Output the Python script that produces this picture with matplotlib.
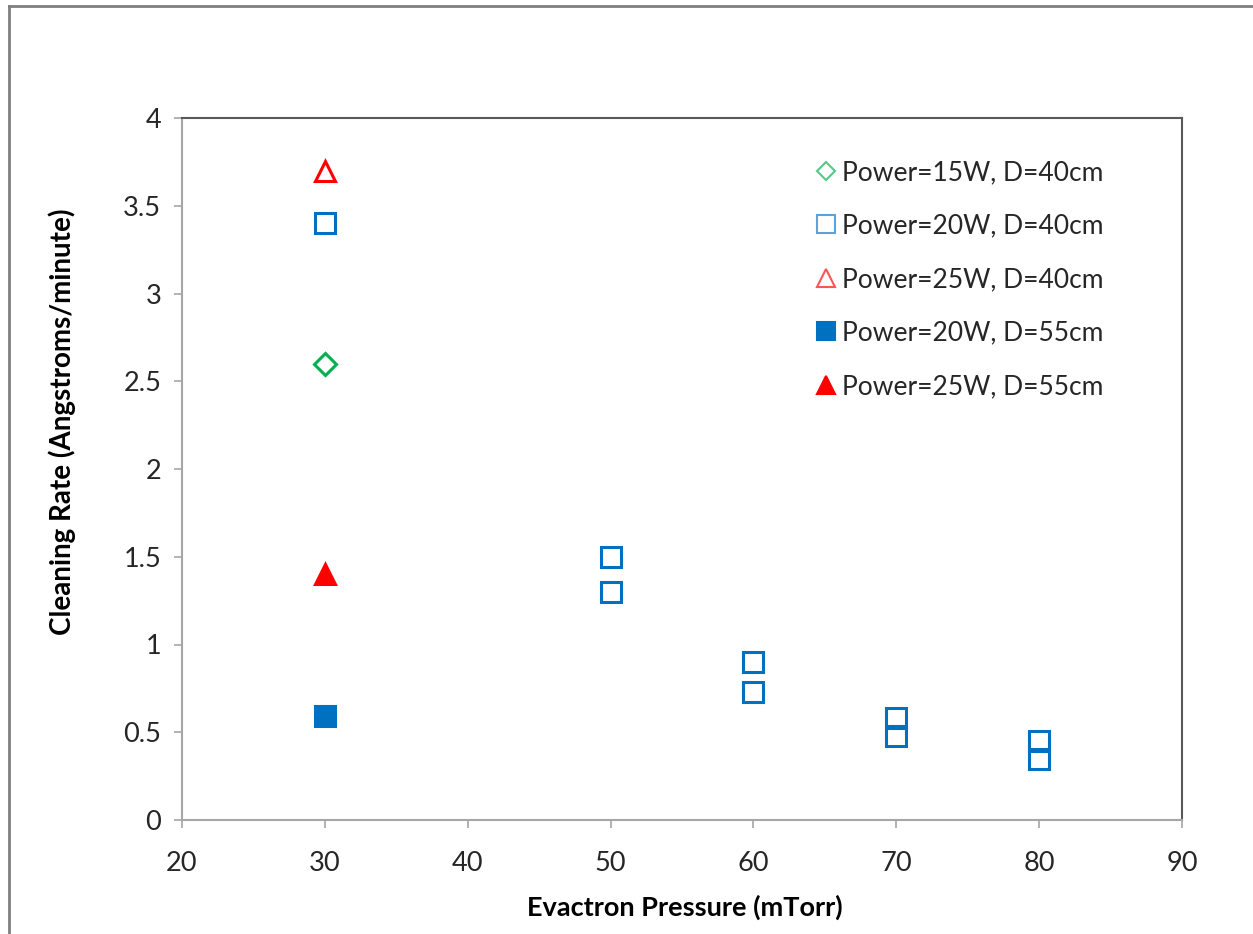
import matplotlib
matplotlib.use("Agg")
import matplotlib.pyplot as plt
from matplotlib.lines import Line2D

plt.rcParams['font.family'] = ['Lato', 'DejaVu Sans']

# Data
p15_d40_x = [30]
p15_d40_y = [2.6]
p20_d40_x = [30, 50, 50, 60, 60, 70, 70, 80, 80]
p20_d40_y = [3.4, 1.5, 1.3, 0.9, 0.73, 0.58, 0.48, 0.45, 0.35]
p25_d40_x = [30]
p25_d40_y = [3.7]
p20_d55_x = [30]
p20_d55_y = [0.59]
p25_d55_x = [30]
p25_d55_y = [1.4]

labels = ["Power=15W, D=40cm", "Power=20W, D=40cm", "Power=25W, D=40cm",
          "Power=20W, D=55cm", "Power=25W, D=55cm"]
xticks = [20, 30, 40, 50, 60, 70, 80, 90]
yticks = [0, 0.5, 1, 1.5, 2, 2.5, 3, 3.5, 4]
ytick_labels = ["0", "0.5", "1", "1.5", "2", "2.5", "3", "3.5", "4"]

blue = "#0070C0"
red = "#FF0000"
green = "#00B050"

fig = plt.figure(figsize=(12.53, 9.34), dpi=100)
ax = fig.add_axes([182/1253, 1-820/934, 1000/1253, 702/934])

ms = 15
mew = 2.2
ax.plot(p15_d40_x, p15_d40_y, ls='none', marker='D', ms=11, mfc='white', mec=green, mew=mew, label=labels[0])
ax.plot(p20_d40_x, p20_d40_y, ls='none', marker='s', ms=ms, mfc='none', mec=blue, mew=mew, label=labels[1])
ax.plot(p25_d40_x, p25_d40_y, ls='none', marker='^', ms=ms, mfc='none', mec=red, mew=mew, label=labels[2])
ax.plot(p20_d55_x, p20_d55_y, ls='none', marker='s', ms=ms, mfc=blue, mec=blue, mew=mew, label=labels[3])
ax.plot(p25_d55_x, p25_d55_y, ls='none', marker='^', ms=ms, mfc=red, mec=red, mew=mew, label=labels[4])

ax.set_xlim(20, 90)
ax.set_ylim(0, 4)
ax.set_xticks(xticks)
ax.set_yticks(yticks)
ax.set_yticklabels(ytick_labels)
ax.tick_params(direction='out', length=6, width=1.2, color='#A6A6A6', labelsize=19.5, labelcolor='#262626')
ax.tick_params(axis='x', pad=16)
ax.tick_params(axis='y', pad=9)

for s in ['left', 'bottom']:
    ax.spines[s].set_color('#A6A6A6')
    ax.spines[s].set_linewidth(1.5)
for s in ['top', 'right']:
    ax.spines[s].set_color('#595959')
    ax.spines[s].set_linewidth(1.5)

ax.set_xlabel("Evactron Pressure (mTorr)", fontsize=19.5, fontweight='bold')
ax.set_ylabel("Cleaning Rate (Angstroms/minute)", fontsize=20, fontweight='bold')
ax.xaxis.set_label_coords((685-182)/1000, (820-895)/702)
ax.yaxis.set_label_coords((76-182)/1000, (820-422)/702)

handles = [
    Line2D([], [], ls='none', marker='D', ms=9, mfc='white', mec='#55C98A', mew=1.5),
    Line2D([], [], ls='none', marker='s', ms=13, mfc='white', mec='#5BA3D9', mew=1.5),
    Line2D([], [], ls='none', marker='^', ms=13, mfc='white', mec='#FF5555', mew=1.5),
    Line2D([], [], ls='none', marker='s', ms=13, mfc=blue, mec=blue, mew=1.5),
    Line2D([], [], ls='none', marker='^', ms=13, mfc=red, mec=red, mew=1.5),
]
leg = ax.legend(handles, labels, loc='upper right', bbox_to_anchor=(0.932, 0.955),
                frameon=False, fontsize=19, handlelength=0.6, handletextpad=0.3,
                labelspacing=1.08, borderaxespad=0)
for t in leg.get_texts():
    t.set_color('#262626')

# outer border
fig.add_artist(Line2D([9/1253, 9/1253], [0, 1-6/934], transform=fig.transFigure, color='#7F7F7F', lw=2))
fig.add_artist(Line2D([9/1253, 1], [1-6/934, 1-6/934], transform=fig.transFigure, color='#7F7F7F', lw=2))

fig.savefig("out.png", dpi=100)
